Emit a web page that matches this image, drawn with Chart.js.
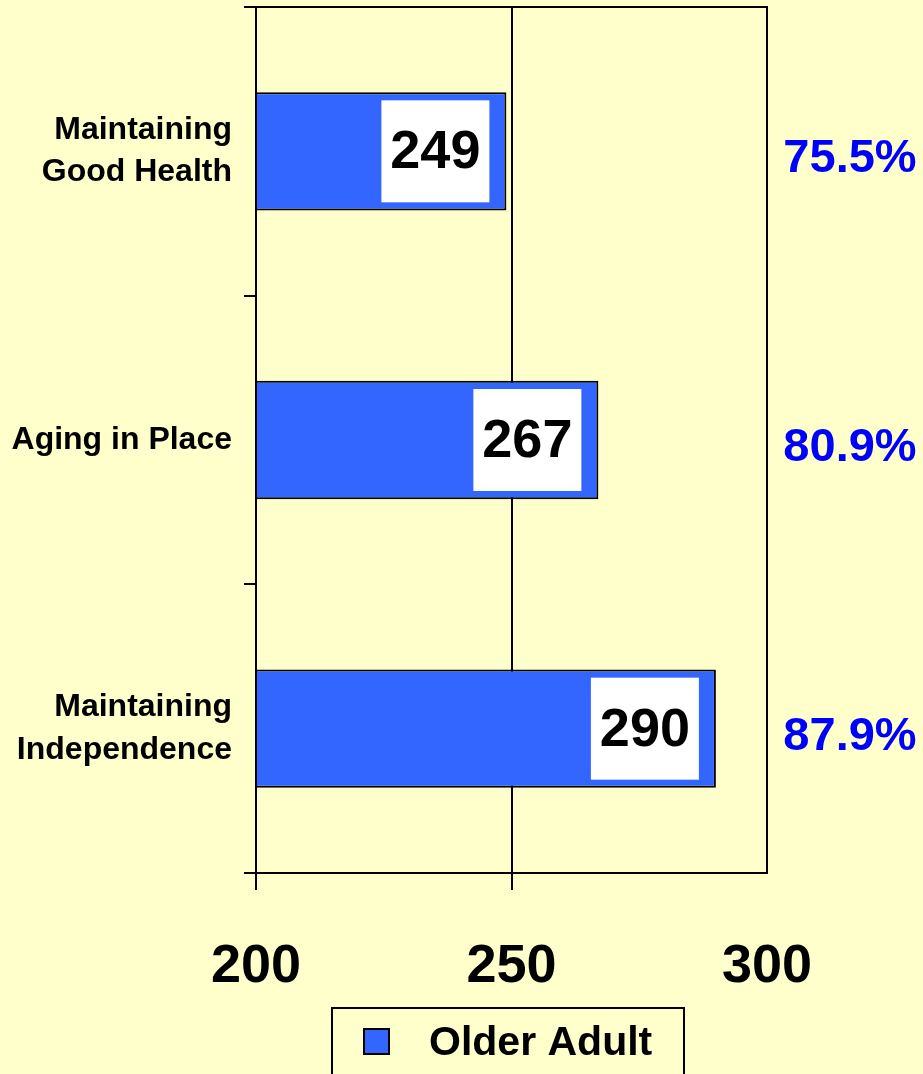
<!DOCTYPE html>
<html>
<head>
<meta charset="utf-8">
<script src="https://cdn.jsdelivr.net/npm/chart.js@4.4.1/dist/chart.umd.min.js"></script>
<style>
  html, body { margin: 0; padding: 0; background: #FFFFCC; }
  #wrap { width: 923px; height: 1074px; }
</style>
</head>
<body>
<div id="wrap"><canvas id="chart" width="923" height="1074"></canvas></div>
<script>
// chart data
const categories = [['Maintaining', 'Good Health'], 'Aging in Place', ['Maintaining', 'Independence']];
const olderAdult = [249, 267, 290];
const percentLabels = ['75.5%', '80.9%', '87.9%'];
const xTicks = [200, 250, 300];
const seriesName = 'Older Adult';

const FONT = '"Liberation Sans", Arial, sans-serif';
const BLUE = '#3366FF';

// background, plot box, value boxes, percentages and legend
const decorations = {
    id: 'decorations',
    beforeDraw(chart) {
        const ctx = chart.ctx;
        ctx.save();
        ctx.fillStyle = '#FFFFCC';
        ctx.fillRect(0, 0, chart.width, chart.height);
        ctx.restore();
    },
    afterDatasetsDraw(chart) {
        const ctx = chart.ctx;
        const area = chart.chartArea;
        const meta = chart.getDatasetMeta(0);

        ctx.save();
        // plot frame
        ctx.strokeStyle = '#000';
        ctx.lineWidth = 2;
        ctx.strokeRect(area.left, area.top, area.right - area.left, area.bottom - area.top);

        meta.data.forEach(function(bar, i) {
            // white label box inside the end of the bar
            const boxW = 108, boxH = 102;
            const boxRight = bar.x - 17;
            ctx.fillStyle = '#FFFFFF';
            ctx.fillRect(boxRight - boxW, bar.y - boxH / 2, boxW, boxH);
            ctx.fillStyle = '#000';
            ctx.font = 'bold 54px ' + FONT;
            ctx.textAlign = 'center';
            ctx.textBaseline = 'middle';
            ctx.fillText(String(olderAdult[i]), boxRight - boxW / 2, bar.y + 2);

            // percentage at the right side
            ctx.fillStyle = '#0000FF';
            ctx.font = 'bold 47px ' + FONT;
            ctx.fillText(percentLabels[i], (area.right + chart.width) / 2 + 5, bar.y + 8);
        });

        // legend box
        ctx.fillStyle = '#FFFFCC';
        ctx.strokeStyle = '#000';
        ctx.lineWidth = 2;
        ctx.fillRect(332, 1008, 352, 70);
        ctx.strokeRect(332, 1008, 352, 70);
        ctx.fillStyle = BLUE;
        ctx.fillRect(364, 1029, 25, 25);
        ctx.strokeRect(364, 1029, 25, 25);
        ctx.fillStyle = '#000';
        ctx.font = 'bold 41px ' + FONT;
        ctx.textAlign = 'left';
        ctx.textBaseline = 'middle';
        ctx.fillText(chart.data.datasets[0].label, 429, 1044);
        ctx.restore();
    }
};

new Chart(document.getElementById('chart'), {
    type: 'bar',
    data: {
        labels: categories,
        datasets: [{
            label: seriesName,
            data: olderAdult,
            backgroundColor: BLUE,
            borderColor: '#000',
            borderWidth: 2,
            borderSkipped: false,
            categoryPercentage: 1,
            barPercentage: 0.41
        }]
    },
    options: {
        indexAxis: 'y',
        responsive: false,
        animation: false,
        layout: { padding: { top: 7, right: 156, left: 0, bottom: 0 } },
        plugins: {
            legend: { display: false },
            tooltip: { enabled: false }
        },
        scales: {
            x: {
                min: 200,
                max: 300,
                afterBuildTicks: function(scale) {
                    scale.ticks = xTicks.map(v => ({ value: v }));
                },
                afterFit: function(scale) { scale.height = 201; },
                border: { display: false },
                grid: {
                    color: ctx => (ctx.tick && ctx.tick.value === 250) ? '#000' : 'rgba(0,0,0,0)',
                    tickColor: ctx => (ctx.tick && ctx.tick.value < 300) ? '#000' : 'rgba(0,0,0,0)',
                    lineWidth: 2,
                    tickLength: 17
                },
                ticks: {
                    color: '#000',
                    padding: 45,
                    maxRotation: 0,
                    font: { family: FONT, size: 54, weight: 'bold' }
                }
            },
            y: {
                afterFit: function(scale) {
                    scale.width = 256;
                    scale.paddingTop = 0;
                    scale.paddingBottom = 0;
                },
                border: { display: true, color: '#000', width: 2 },
                grid: {
                    drawOnChartArea: false,
                    color: '#000',
                    lineWidth: 2,
                    tickLength: 12
                },
                ticks: {
                    color: '#000',
                    padding: 12,
                    font: { family: FONT, size: 32, weight: 'bold', lineHeight: 1.32 }
                }
            }
        }
    },
    plugins: [decorations]
});
</script>
</body>
</html>
